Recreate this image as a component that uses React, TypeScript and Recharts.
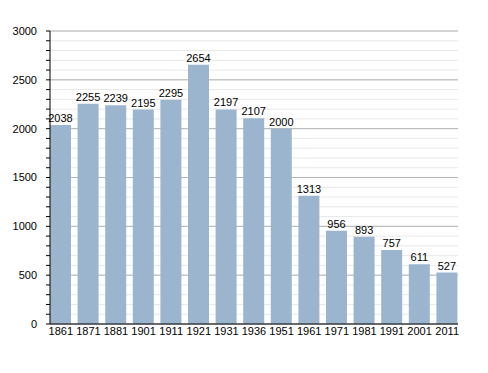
import { BarChart, Bar, XAxis, YAxis, CartesianGrid, LabelList } from 'recharts';

const years = ['1861', '1871', '1881', '1901', '1911', '1921', '1931', '1936', '1951', '1961', '1971', '1981', '1991', '2001', '2011'];
const population = [2038, 2255, 2239, 2195, 2295, 2654, 2197, 2107, 2000, 1313, 956, 893, 757, 611, 527];
const minorTicks = Array.from({ length: 31 }, (_, i) => i * 100);
const majorTicks = [0, 500, 1000, 1500, 2000, 2500, 3000];

const W = 488;
const H = 373;
const X_AXIS_H = 30;
const M = { top: 31, right: 30, bottom: 19, left: 0 };
const plotH = H - M.top - M.bottom - X_AXIS_H;

const data = years.map((year, i) => ({ year, value: population[i] }));

// major gridlines, placed on the y scale by hand
const majorY = majorTicks.map(v => M.top + (1 - v / 3000) * plotH);

export default function App() {
  return (
    <div style={{ position: 'absolute', left: 0, top: 0, background: '#fff', fontFamily: '"Liberation Sans", Arial, sans-serif' }}>
      <BarChart width={W} height={H} data={data} margin={M}>
        <CartesianGrid vertical={false} stroke="#e8e8e8" />
        <CartesianGrid vertical={false} stroke="#b4b4b4" horizontalPoints={majorY} />
        <XAxis
          dataKey="year"
          height={X_AXIS_H}
          padding={{ left: -3, right: -3 }}
          tickLine={false}
          tickSize={0}
          axisLine={{ stroke: '#000' }}
          tick={{ fill: '#000', fontSize: 11 }}
          interval={0}
          tickMargin={3}
        />
        <YAxis
          width={50}
          domain={[0, 3000]}
          ticks={minorTicks}
          interval={0}
          tickFormatter={(v: number) => (v % 500 === 0 ? String(v) : '')}
          axisLine={{ stroke: '#000' }}
          tickLine={{ stroke: '#000' }}
          tickSize={4}
          tickMargin={9}
          tick={{ fill: '#000', fontSize: 11 }}
        />
        <Bar dataKey="value" fill="#9cb5cf" barSize={21} isAnimationActive={false}>
          <LabelList dataKey="value" position="top" fill="#000" fontSize={11} offset={3} />
        </Bar>
      </BarChart>
    </div>
  );
}
